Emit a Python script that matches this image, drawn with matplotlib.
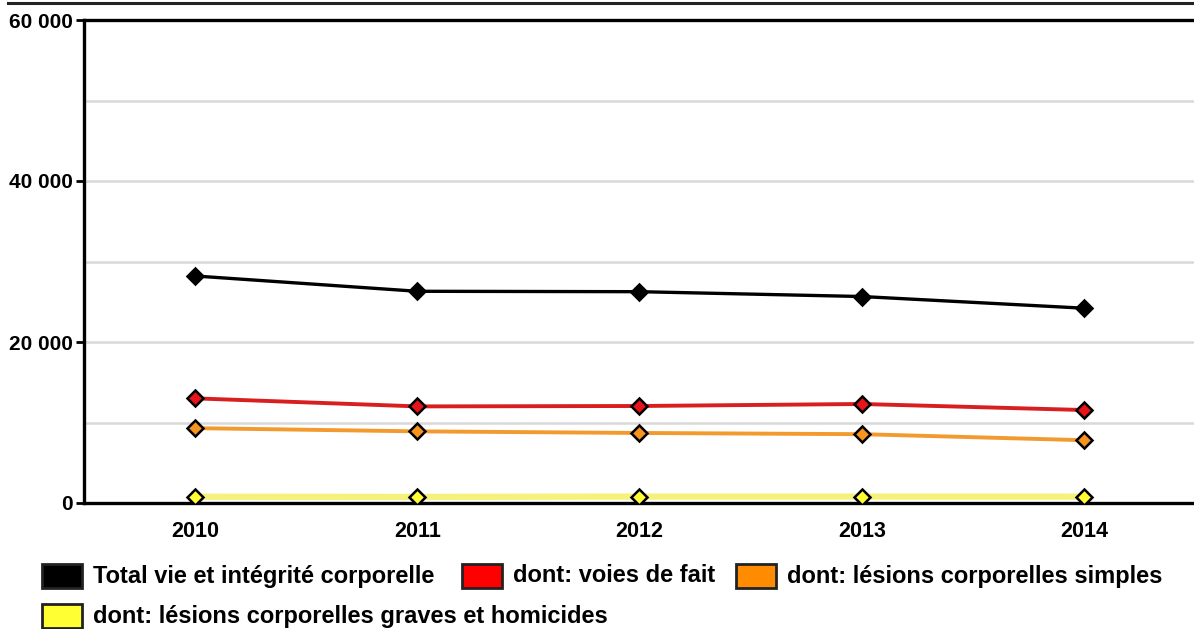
import matplotlib.pyplot as plt
from matplotlib.patches import Rectangle
from matplotlib.lines import Line2D

years = [2010, 2011, 2012, 2013, 2014]
total = [28200, 26300, 26250, 25650, 24200]
voies = [13000, 12000, 12050, 12300, 11550]
simples = [9300, 8900, 8700, 8550, 7800]
graves = [780, 760, 800, 800, 790]

labels = ["Total vie et intégrité corporelle",
          "dont: voies de fait",
          "dont: lésions corporelles simples",
          "dont: lésions corporelles graves et homicides"]
line_colors = ["#000000", "#d81e1e", "#f29a2e", "#f4f27a"]
fill_colors = ["#000000", "#e8141a", "#f7941d", "#ffff33"]
patch_colors = ["#000000", "#ff0000", "#ff8c00", "#ffff33"]

plt.rcParams['font.family'] = ['Liberation Sans', 'DejaVu Sans']
plt.rcParams['font.weight'] = 'bold'

W, H = 1194, 629
fig = plt.figure(figsize=(W / 100, H / 100), dpi=100)
ax = fig.add_axes([84 / W, 1 - 503 / H, 1111 / W, 483 / H])

series = [total, voies, simples, graves]
widths = [2.4, 2.8, 2.8, 4.5]
for vals, lc, fc, lw in zip(series, line_colors, fill_colors, widths):
    ax.plot(years, vals, color=lc, lw=lw, zorder=3)
    ax.plot(years, vals, ls='none', marker='D', ms=8.5, mfc=fc, mec='black',
            mew=1.8, zorder=4)

ax.set_xlim(2009.5, 2014.5)
ax.set_ylim(0, 60000)
ax.set_xticks(years)
ax.set_xticklabels([str(y) for y in years], fontsize=15.5, fontweight='bold')
ax.set_yticks([0, 20000, 40000, 60000])
ax.set_yticklabels(["0", "20 000", "40 000", "60 000"], fontsize=15, fontweight='bold')
ax.set_yticks(range(10000, 60000, 10000), minor=True)
ax.grid(axis='y', which='both', color='#d9d9d9', lw=1.8, zorder=0)
ax.tick_params(axis='y', length=6, width=2, pad=2)
ax.tick_params(axis='y', which='minor', length=0)
ax.tick_params(axis='x', length=0, pad=13)
for s in ['left', 'bottom', 'top']:
    ax.spines[s].set_linewidth(2.4)
ax.spines['right'].set_visible(False)

# top border line of the frame
fig.add_artist(Line2D([8 / W, 1], [1 - 3 / H, 1 - 3 / H], color='#222222', lw=2.2))

# legend drawn as flow layout
entries = [(0, 42, 576), (1, 462, 576), (2, 736, 576), (3, 42, 616)]
for i, px, py in entries:
    fig.add_artist(Rectangle((px / W, 1 - (py + 12) / H), 40 / W, 24 / H,
                             facecolor=patch_colors[i], edgecolor='#222222', lw=2,
                             transform=fig.transFigure))
    fig.text((px + 51) / W, 1 - py / H, labels[i], fontsize=17, fontweight='bold',
             va='center', ha='left')

fig.savefig("out.png", dpi=100)
